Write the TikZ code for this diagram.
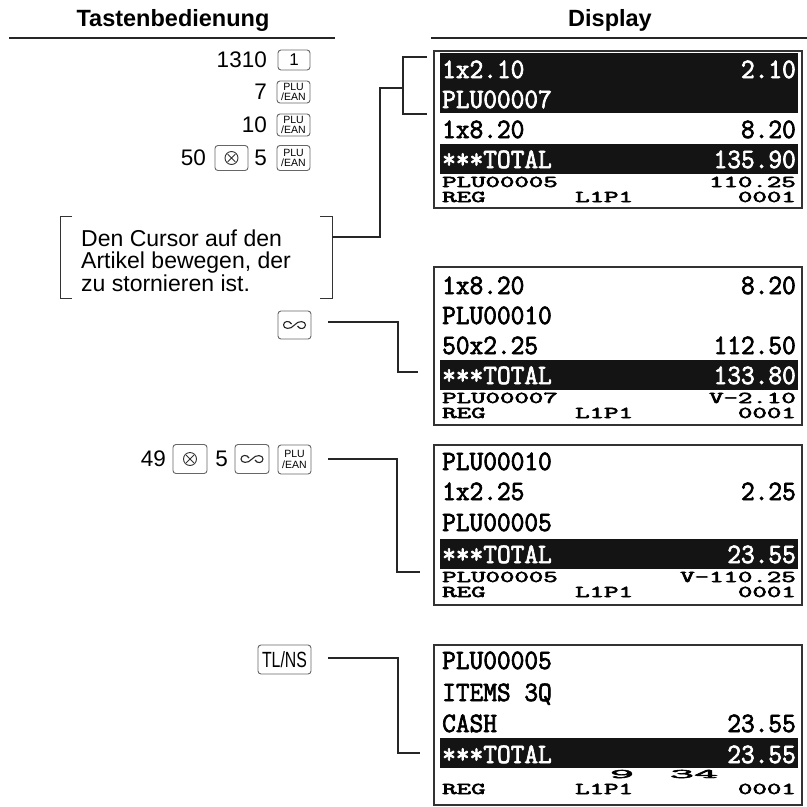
\documentclass[tikz,border=0pt]{standalone}
\usepackage{fontspec}
\usepackage{graphicx}
\setmainfont{Liberation Sans}
\newfontfamily\lcdfont{Latin Modern Mono}[FakeBold=2.6]
\newfontfamily\lcdbold{Latin Modern Mono}[FakeBold=3]
\newcommand\Lg[1]{\scalebox{0.95}[1]{\fontsize{28}{28}\selectfont\lcdfont #1}}
\newcommand\Sm[1]{\scalebox{1.7}[1]{\fontsize{16.5}{16.5}\selectfont\lcdbold #1}}
\newcommand\Sq[1]{\scalebox{3.6}[1]{\fontsize{13}{13}\selectfont\lcdbold #1}}
\tikzset{
  keybox/.style={draw=black!60, line width=0.9pt, rounded corners=3pt, fill=white, inner sep=0pt},
  plukey/.style={keybox, minimum width=33pt, minimum height=22pt, align=center,
     font=\fontsize{10.5}{10.5}\selectfont},
  conn/.style={draw=black!85, line width=1.1pt},
  lcdbox/.style={draw=black!80, line width=1.8pt},
  band/.style={fill=black!92},
  lt/.style={anchor=base west, inner sep=0pt},
  rt/.style={anchor=base east, inner sep=0pt},
  ct/.style={anchor=base, inner sep=0pt},
  num/.style={anchor=east, inner sep=0pt, font=\fontsize{22.5}{22.5}\selectfont},
  notetxt/.style={anchor=base west, inner sep=0pt, font=\fontsize{23}{23}\selectfont},
  voidsym/.pic={\draw[line width=1.1pt, black!85] (-3,-1) .. controls (-5,-5) and (-11,-4) .. (-11,0)
      .. controls (-11,4) and (-4,5) .. (0,0) .. controls (4,-5) and (11,-4) .. (11,0)
      .. controls (11,4) and (5,5) .. (3,1);},
  timessym/.pic={\draw[line width=0.9pt, black!80] (0,0) circle (6.5pt);
      \draw[line width=0.9pt, black!80] (-3.8,-3.8) -- (3.8,3.8) (-3.8,3.8) -- (3.8,-3.8);}
}
\begin{document}
\begin{tikzpicture}[x=1pt,y=-1pt]
\useasboundingbox (0,0) rectangle (807,807);
% headers
\node[font=\fontsize{23.5}{23.5}\selectfont\bfseries, anchor=base] (h1) at (173,26) {Tastenbedienung};
\node[font=\fontsize{23.5}{23.5}\selectfont\bfseries, anchor=base] (h2) at (610,26) {Display};
\draw[line width=1.1pt, black!85] (9,38) -- (335,38);
\draw[line width=1.1pt, black!85] (431,38) -- (807,38);

% key rows
\node[num] (n1) at (267,60) {1310};
\node[keybox, minimum width=32pt, minimum height=20pt, font=\fontsize{17}{17}\selectfont] (k1) at (294,60) {1};
\node[num] (n2) at (267,92) {7};
\node[plukey] (k2) at (293.5,92) {PLU\\/EAN};
\node[num] (n3) at (267,125) {10};
\node[plukey] (k3) at (293.5,125) {PLU\\/EAN};
\node[num] (n4a) at (206,158) {50};
\node[keybox, minimum width=33pt, minimum height=25pt] (k4a) at (231.5,158) {};
\pic at (k4a.center) {timessym};
\node[num] (n4b) at (267,158) {5};
\node[plukey, minimum height=25pt] (k4b) at (293.5,158) {PLU\\/EAN};

% note with brackets
\node[notetxt] (note1) at (81,246) {Den Cursor auf den};
\node[notetxt] (note2) at (81,268) {Artikel bewegen, der};
\node[notetxt] (note3) at (81,291) {zu stornieren ist.};
\draw[line width=1pt, black!80] (72,216) -- (60,216) -- (60,298) -- (72,298);
\draw[line width=1pt, black!80] (320,216) -- (332,216) -- (332,298) -- (320,298);
\coordinate (noteR) at (332,237);
\coordinate (c1a) at (380,237);
\coordinate (c1b) at (380,88);
\coordinate (brk) at (403,88);
\draw[conn] (noteR) -- (c1a) -- (c1b) -- (brk);
\draw[conn] (427,57) -- (403,57) -- (403,114) -- (427,114);

% void key
\node[keybox, minimum width=33pt, minimum height=28pt] (k5) at (294.5,325) {};
\pic at (k5.center) {voidsym};
\coordinate (c2s) at (328,322);
\coordinate (c2a) at (398,322);
\coordinate (c2b) at (398,372);
\coordinate (c2e) at (418,372);
\draw[conn] (c2s) -- (c2a) -- (c2b) -- (c2e);

% row 49
\node[num] (n6a) at (166,459) {49};
\node[keybox, minimum width=34pt, minimum height=29pt] (k6a) at (190,459) {};
\pic at (k6a.center) {timessym};
\node[num] (n6b) at (228,459) {5};
\node[keybox, minimum width=34pt, minimum height=29pt] (k6b) at (252,459) {};
\pic at (k6b.center) {voidsym};
\node[plukey, minimum height=29pt] (k6c) at (294.5,459.5) {PLU\\/EAN};
\coordinate (c3s) at (328,459);
\coordinate (c3a) at (397,459);
\coordinate (c3b) at (397,572);
\coordinate (c3e) at (420,572);
\draw[conn] (c3s) -- (c3a) -- (c3b) -- (c3e);

% TL/NS
\node[keybox, minimum width=53pt, minimum height=29pt] (k7) at (284.5,659.5) {\scalebox{0.72}[1]{\fontsize{22}{22}\selectfont TL/NS}};
\coordinate (c4s) at (328,658);
\coordinate (c4a) at (398,658);
\coordinate (c4b) at (398,753);
\coordinate (c4e) at (420,753);
\draw[conn] (c4s) -- (c4a) -- (c4b) -- (c4e);

% ---------- display 1
\begin{scope}[shift={(0,51)}]
\fill[band] (440,2) rectangle (798,62);
\fill[band] (440,93) rectangle (798,123);
\draw[lcdbox] (434,0) rectangle (802,157);
\node[lt,text=white] (d1a) at (442,27) {\Lg{1x2.10}};
\node[rt,text=white] (d1b) at (796,27) {\Lg{2.10}};
\node[lt,text=white] (d1c) at (442,57) {\Lg{PLU00007}};
\node[lt] (d1d) at (442,87) {\Lg{1x8.20}};
\node[rt] (d1e) at (796,87) {\Lg{8.20}};
\node[lt,text=white] (d1f) at (442,117) {\Lg{***TOTAL}};
\node[rt,text=white] (d1g) at (796,117) {\Lg{135.90}};
\node[lt] (d1h) at (442,136) {\Sm{PLU00005}};
\node[rt] (d1i) at (796,136) {\Sm{110.25}};
\node[lt] (d1j) at (442,151) {\Sm{REG}};
\node[lt] (d1k) at (575,151) {\Sm{L1P1}};
\node[rt] (d1l) at (796,151) {\Sm{0001}};
\end{scope}

% ---------- display 2
\begin{scope}[shift={(0,267)}]
\fill[band] (440,93) rectangle (798,123);
\draw[lcdbox] (434,0) rectangle (802,158);
\node[lt] (d2a) at (442,27) {\Lg{1x8.20}};
\node[rt] (d2b) at (796,27) {\Lg{8.20}};
\node[lt] (d2c) at (442,57) {\Lg{PLU00010}};
\node[lt] (d2d) at (442,87) {\Lg{50x2.25}};
\node[rt] (d2e) at (796,87) {\Lg{112.50}};
\node[lt,text=white] (d2f) at (442,117) {\Lg{***TOTAL}};
\node[rt,text=white] (d2g) at (796,117) {\Lg{133.80}};
\node[lt] (d2h) at (442,136) {\Sm{PLU00007}};
\node[rt] (d2i) at (796,136) {\Sm{V-2.10}};
\node[lt] (d2j) at (442,151) {\Sm{REG}};
\node[lt] (d2k) at (575,151) {\Sm{L1P1}};
\node[rt] (d2l) at (796,151) {\Sm{0001}};
\end{scope}

% ---------- display 3
\begin{scope}[shift={(0,445)}]
\fill[band] (440,94) rectangle (798,124);
\draw[lcdbox] (434,0) rectangle (802,160);
\node[lt] (d3a) at (442,25) {\Lg{PLU00010}};
\node[lt] (d3b) at (442,55) {\Lg{1x2.25}};
\node[rt] (d3c) at (796,55) {\Lg{2.25}};
\node[lt] (d3d) at (442,86) {\Lg{PLU00005}};
\node[lt,text=white] (d3f) at (442,118) {\Lg{***TOTAL}};
\node[rt,text=white] (d3g) at (796,118) {\Lg{23.55}};
\node[lt] (d3h) at (442,137) {\Sm{PLU00005}};
\node[rt] (d3i) at (796,137) {\Sm{V-110.25}};
\node[lt] (d3j) at (442,152) {\Sm{REG}};
\node[lt] (d3k) at (575,152) {\Sm{L1P1}};
\node[rt] (d3l) at (796,152) {\Sm{0001}};
\end{scope}

% ---------- display 4
\begin{scope}[shift={(0,645)}]
\fill[band] (440,93) rectangle (798,123);
\draw[lcdbox] (434,0) rectangle (802,160);
\node[lt] (d4a) at (442,24) {\Lg{PLU00005}};
\node[lt] (d4b) at (442,56) {\Lg{ITEMS 3Q}};
\node[lt] (d4c) at (442,87) {\Lg{CASH}};
\node[rt] (d4d) at (796,87) {\Lg{23.55}};
\node[lt,text=white] (d4f) at (442,118) {\Lg{***TOTAL}};
\node[rt,text=white] (d4g) at (796,118) {\Lg{23.55}};
\node[ct] (d4h) at (622,133) {\Sq{9}};
\node[ct] (d4i) at (694,133) {\Sq{34}};
\node[lt] (d4j) at (442,149) {\Sm{REG}};
\node[lt] (d4k) at (575,149) {\Sm{L1P1}};
\node[rt] (d4l) at (796,149) {\Sm{0001}};
\end{scope}
\end{tikzpicture}
\end{document}
